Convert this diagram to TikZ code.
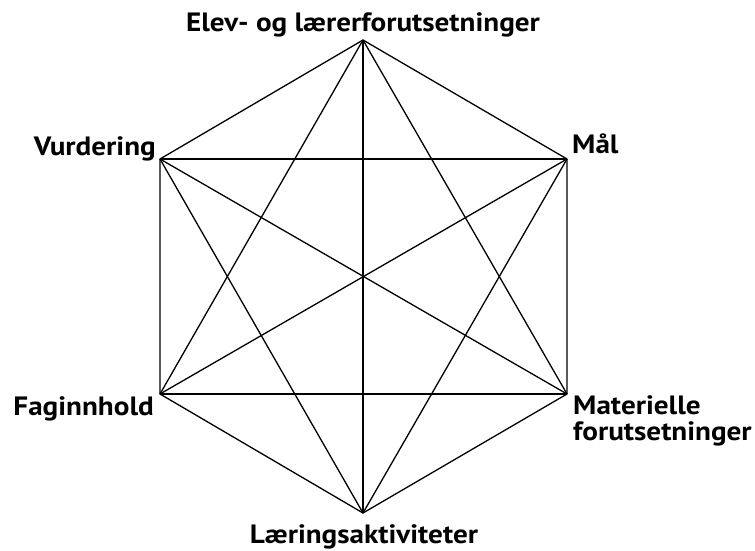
\documentclass[tikz,border=0pt]{standalone}
\usepackage{fontspec}
\setmainfont{PT Sans}[FakeStretch=1.1]
\begin{document}
\begin{tikzpicture}[x=1pt,y=-1pt,
  lbl/.style={inner sep=0pt, font=\fontsize{26.5}{23}\selectfont\bfseries},
  edge/.style={line width=1.3pt, line join=round}]
\useasboundingbox (0,0) rectangle (755,550);
\coordinate (T) at (363,40);
\coordinate (TL) at (160,159);
\coordinate (TR) at (567,159);
\coordinate (BL) at (160,394);
\coordinate (BR) at (567,394);
\coordinate (B) at (363,513);
% hexagon sides
\draw[edge] (T) -- (TR) -- (BR) -- (B) -- (BL) -- (TL) -- cycle;
% short diagonals
\draw[edge] (T) -- (BL);
\draw[edge] (T) -- (BR);
\draw[edge] (TL) -- (TR);
\draw[edge] (TL) -- (B);
\draw[edge] (TR) -- (B);
\draw[edge] (BL) -- (BR);
% long diagonals
\draw[edge] (T) -- (B);
\draw[edge] (TL) -- (BR);
\draw[edge] (TR) -- (BL);
% labels
\node[lbl, anchor=base] (lt) at (363,31) {Elev- og lærerforutsetninger};
\node[lbl, anchor=base east] (ltl) at (156,155) {Vurdering};
\node[lbl, anchor=base west] (ltr) at (572,153) {Mål};
\node[lbl, anchor=base east] (lbl) at (154,415) {Faginnhold};
\node[lbl, anchor=base west] (lbr) at (573,414) {Materielle};
\node[lbl, anchor=base west] (lbr2) at (573,440) {forutsetninger};
\node[lbl, anchor=base] (lb) at (364,543) {Læringsaktiviteter};
\end{tikzpicture}
\end{document}
